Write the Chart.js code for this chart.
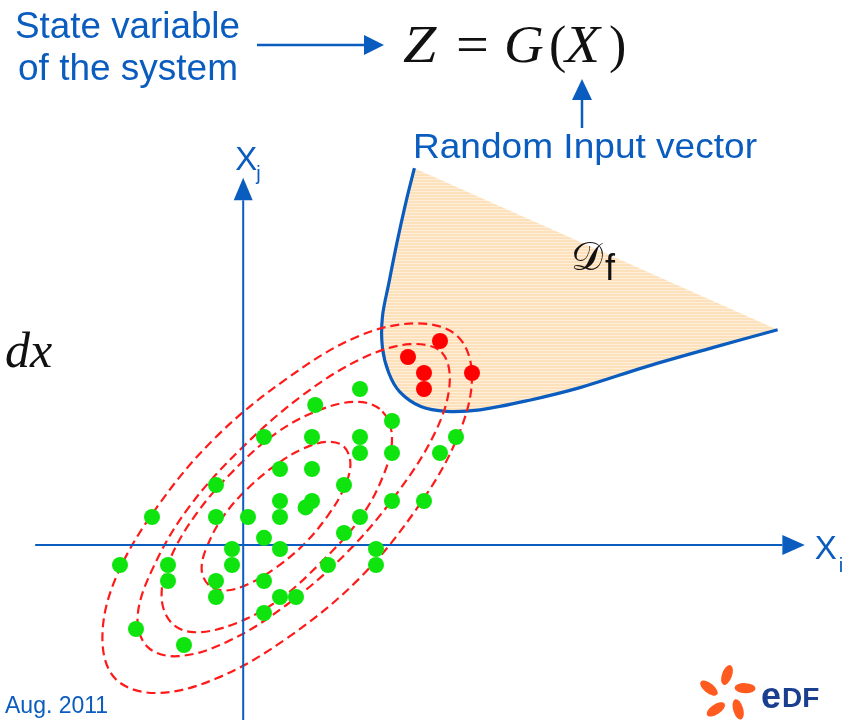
<!DOCTYPE html>
<html>
<head>
<meta charset="utf-8">
<script src="https://cdn.jsdelivr.net/npm/chart.js@4.4.1/dist/chart.umd.min.js"></script>
<style>
  html, body { margin: 0; padding: 0; background: #ffffff; }
  #wrap { width: 846px; height: 720px; }
</style>
</head>
<body>
<div id="wrap"><canvas id="c" width="846" height="720"></canvas></div>
<script>
// Monte Carlo sample of the input vector X = (Xi, Xj), in grid units
const safePoints = [
  [7, 10], [4.2, 9], [9, 8], [1, 7], [4, 7], [7, 7], [13, 7], [7, 6], [9, 6], [12, 6],
  [2, 5], [4, 5], [-2, 4], [6, 4], [-6, 2], [-2, 2], [0, 2], [2, 3], [4, 3], [3.6, 2.6],
  [2, 2], [9, 3], [11, 3], [7, 2], [1, 0.7], [6, 1], [-1, 0], [2, 0], [8, 0], [-8, -1],
  [-5, -1], [-1, -1], [5, -1], [8, -1], [-5, -2], [-2, -2], [1, -2], [-2, -3], [2, -3], [3, -3],
  [1, -4], [-7, -5], [-4, -6]
];
// Sample points falling inside the failure domain
const failurePoints = [[12, 13], [10, 12], [11, 11], [11, 10], [14, 11]];

// Iso-density contours of the joint input distribution (closed curves)
const contour1 = [
  [6.0, 6.4], [6.4, 5.3], [6.0, 3.8], [5.0, 2.1], [3.5, 0.3], [1.7, -1.2], [0.0, -2.2], [-1.5, -2.6],
  [-2.5, -2.2], [-2.9, -1.2], [-2.5, 0.3], [-1.5, 2.1], [0.0, 3.8], [1.8, 5.3], [3.5, 6.3], [5.0, 6.7]
];
const contour2 = [
  [8.4, 8.6], [9.0, 7.0], [8.5, 4.7], [7.0, 1.9], [4.6, -0.8], [1.9, -3.2], [-0.9, -4.7], [-3.4, -5.2],
  [-4.8, -4.6], [-5.4, -3.0], [-4.9, -0.7], [-3.3, 2.1], [-1.0, 4.8], [1.7, 7.2], [4.5, 8.7], [6.9, 9.2]
];
const contour3 = [
  [12.1, 12.3], [12.6, 10.3], [11.7, 7.3], [9.4, 3.6], [6.2, -0.2], [2.4, -3.5], [-1.3, -5.8], [-4.4, -6.7],
  [-6.3, -6.1], [-6.9, -4.2], [-5.9, -1.1], [-3.7, 2.6], [-0.4, 6.3], [3.4, 9.6], [7.1, 11.9], [10.1, 12.8]
];
const contour4 = [
  [13.1, 13.3], [14.0, 10.8], [13.1, 7.0], [10.6, 2.6], [6.9, -1.9], [2.4, -5.6], [-2.0, -8.1], [-5.8, -9.0],
  [-8.3, -8.1], [-9.1, -5.6], [-8.3, -1.9], [-5.7, 2.6], [-2.0, 7.0], [2.5, 10.7], [6.9, 13.3], [10.6, 14.1]
];

// Limit-state curve G(x) = 0 bounding the failure domain Df
const limitState = [
  [10.4, 23.8], [9.9, 21.8], [9.3, 19.1], [8.8, 16.6], [8.4, 14.5], [8.4, 12.6], [8.8, 11.0], [9.5, 9.8],
  [10.8, 8.9], [12.4, 8.6], [14.5, 8.7], [17.6, 9.3], [20.8, 10.1], [24.9, 11.4], [29.1, 12.6], [33.1, 13.7]
];

// Coordinate axes: crossing point, and [start, arrow base, arrow tip] along each axis
const axisOrigin = { x: -0.3, y: 0.25 };
const xiAxisSpan = [-13.3, 33.4, 34.8];
const xjAxisSpan = [-10.7, 21.8, 23.2];

const BLUE = '#0b5cbf';
const GREEN = '#0fe40f';
const RED = '#ff0000';
const DASH_RED = '#ff1a1a';

const pt = arr => arr.map(([x, y]) => ({ x, y }));

let stripes = null;
function stripePattern(ctx) {
  if (stripes) return stripes;
  const c = document.createElement('canvas');
  c.width = 4; c.height = 3;
  const g = c.getContext('2d');
  g.fillStyle = '#fde1bb'; g.fillRect(0, 0, 4, 3);
  g.fillStyle = '#feeedb'; g.fillRect(0, 2, 4, 1);
  stripes = ctx.createPattern(c, 'repeat');
  return stripes;
}

// Turns the contour datasets into closed smooth loops
const closedLoops = {
  id: 'closedLoops',
  afterDatasetUpdate(chart, args) {
    const ds = chart.data.datasets[args.index];
    const line = args.meta.dataset;
    if (ds.closedLoop && line) {
      line._loop = true;
      line._fullLoop = true;
      line._segments = undefined;
      line._path = undefined;
      line._pointsUpdated = false;
    }
  }
};

// Hatched fill of the failure domain, closed by a straight edge
const domainFill = {
  id: 'domainFill',
  beforeDatasetDraw(chart, args) {
    const ds = chart.data.datasets[args.index];
    if (!ds.domainFill) return;
    const line = args.meta.dataset;
    const ctx = chart.ctx;
    line.updateControlPoints(chart.chartArea, 'x');
    ctx.save();
    ctx.beginPath();
    line.path(ctx);
    ctx.closePath();
    ctx.fillStyle = stripePattern(ctx);
    ctx.fill();
    ctx.restore();
  }
};

function arrowHead(ctx, tx, ty, dir, len, half) {
  ctx.beginPath();
  if (dir === 'right') {
    ctx.moveTo(tx, ty); ctx.lineTo(tx - len, ty - half); ctx.lineTo(tx - len, ty + half);
  } else {
    ctx.moveTo(tx, ty); ctx.lineTo(tx - half, ty + len); ctx.lineTo(tx + half, ty + len);
  }
  ctx.closePath();
  ctx.fill();
}

function fitText(ctx, str, x, y, width) {
  const m = ctx.measureText(str).width;
  ctx.save();
  ctx.translate(x, y);
  ctx.scale(width / m, 1);
  ctx.fillText(str, 0, 0);
  ctx.restore();
}

function wideText(ctx, str, x, y, sx) {
  ctx.save();
  ctx.translate(x, y);
  ctx.scale(sx, 1);
  ctx.fillText(str, 0, 0);
  ctx.restore();
}

// Axis arrowheads and labels
const axisDecor = {
  id: 'axisDecor',
  afterDatasetsDraw(chart) {
    const ctx = chart.ctx;
    const xs = chart.scales.x, ys = chart.scales.y;
    ctx.save();
    ctx.fillStyle = BLUE;
    const ax = xs.getPixelForValue(axisOrigin.x);
    const ay = ys.getPixelForValue(axisOrigin.y);
    const xTip = xs.getPixelForValue(xiAxisSpan[2]);
    const yTip = ys.getPixelForValue(xjAxisSpan[2]);
    arrowHead(ctx, xTip, ay, 'right', xTip - xs.getPixelForValue(xiAxisSpan[1]), 10);
    arrowHead(ctx, ax, yTip, 'up', ys.getPixelForValue(xjAxisSpan[1]) - yTip, 9.5);
    ctx.textBaseline = 'alphabetic';
    ctx.font = '33px "Liberation Sans", Arial, sans-serif';
    ctx.fillText('X', xTip + 10, ay + 14);
    ctx.fillText('X', ax - 8, yTip - 8);
    ctx.font = '20px "Liberation Sans", Arial, sans-serif';
    ctx.fillText('i', xTip + 34, ay + 27);
    ctx.fillText('j', ax + 13, yTip + 2);
    ctx.restore();
  }
};

// Titles, formula, annotation arrows and footer
const annotations = {
  id: 'annotations',
  afterDraw(chart) {
    const ctx = chart.ctx;
    ctx.save();
    ctx.textBaseline = 'alphabetic';
    ctx.fillStyle = BLUE;
    ctx.strokeStyle = BLUE;

    ctx.font = '36px "Liberation Sans", Arial, sans-serif';
    fitText(ctx, 'State variable', 15, 38, 225);
    fitText(ctx, 'of the system', 18, 80, 220);
    ctx.font = '35px "Liberation Sans", Arial, sans-serif';
    fitText(ctx, 'Random Input vector', 413, 158, 344);

    ctx.lineWidth = 2.5;
    ctx.beginPath(); ctx.moveTo(257, 45); ctx.lineTo(366, 45); ctx.stroke();
    arrowHead(ctx, 384, 45, 'right', 20, 10);
    ctx.beginPath(); ctx.moveTo(582, 128); ctx.lineTo(582, 97); ctx.stroke();
    arrowHead(ctx, 582, 79, 'up', 21, 10);

    ctx.font = '23px "Liberation Sans", Arial, sans-serif';
    ctx.fillText('Aug. 2011', 5, 713);

    // Z = G(X)
    ctx.fillStyle = '#111111';
    const it = 'italic 52px "Liberation Serif", "DejaVu Serif", serif';
    const up = '52px "Liberation Serif", "DejaVu Serif", serif';
    const parts = [
      ['Z', it, 403, 1.15], ['=', up, 456, 1.12], ['G', it, 504, 1.06],
      ['(', up, 549, 1.0], ['X', it, 565, 1.1], [')', up, 609, 1.0]
    ];
    for (const [s, f, x, sx] of parts) { ctx.font = f; wideText(ctx, s, x, 62, sx); }
    ctx.font = 'italic 50px "Liberation Serif", "DejaVu Serif", serif';
    ctx.fillText('dx', 5, 367);

    // Df label
    ctx.font = '40px "DejaVu Serif", "Liberation Serif", serif';
    ctx.fillText('\u{1D49F}', 571, 270);
    ctx.font = '36px "Liberation Sans", Arial, sans-serif';
    ctx.fillText('f', 605, 280);

    // EDF logo
    const cx = 727, cy = 694;
    ctx.fillStyle = '#ff5a1f';
    for (const a of [-90, -18, 54, 126, 198]) {
      const r = a * Math.PI / 180;
      ctx.save();
      ctx.translate(cx + 19 * Math.cos(r), cy + 19 * Math.sin(r));
      ctx.rotate(r + 0.35);
      ctx.beginPath();
      ctx.ellipse(0, 0, 10.5, 5, 0, 0, Math.PI * 2);
      ctx.fill();
      ctx.restore();
    }
    ctx.fillStyle = '#1b3f8f';
    ctx.font = 'bold 36px "Liberation Sans", Arial, sans-serif';
    ctx.fillText('e', 761, 708);
    const ew = ctx.measureText('e').width;
    ctx.font = 'bold 28px "Liberation Sans", Arial, sans-serif';
    ctx.fillText('DF', 761 + ew + 1, 707);
    ctx.restore();
  }
};

const contourStyle = {
  borderColor: DASH_RED, borderWidth: 2.2, borderDash: [9, 5], tension: 0.36,
  pointRadius: 0, pointHoverRadius: 0, fill: false, closedLoop: true, order: 2
};

new Chart(document.getElementById('c'), {
  type: 'line',
  data: {
    datasets: [
      { label: 'Safe samples', data: pt(safePoints), showLine: false, pointRadius: 8, pointHoverRadius: 8,
        pointBackgroundColor: GREEN, pointBorderWidth: 0, order: 0 },
      { label: 'Failure samples', data: pt(failurePoints), showLine: false, pointRadius: 8, pointHoverRadius: 8,
        pointBackgroundColor: RED, pointBorderWidth: 0, order: 0 },
      { label: 'Xi', data: [{ x: xiAxisSpan[0], y: axisOrigin.y }, { x: xiAxisSpan[1], y: axisOrigin.y }],
        borderColor: BLUE, borderWidth: 2, pointRadius: 0, order: 1 },
      { label: 'Xj', data: [{ x: axisOrigin.x, y: xjAxisSpan[0] }, { x: axisOrigin.x, y: xjAxisSpan[1] }],
        borderColor: BLUE, borderWidth: 2, pointRadius: 0, order: 1 },
      Object.assign({ label: 'Contour 1', data: pt(contour1) }, contourStyle),
      Object.assign({ label: 'Contour 2', data: pt(contour2) }, contourStyle),
      Object.assign({ label: 'Contour 3', data: pt(contour3) }, contourStyle),
      Object.assign({ label: 'Contour 4', data: pt(contour4) }, contourStyle),
      { label: 'Limit state', data: pt(limitState), domainFill: true, borderColor: BLUE, borderWidth: 3.2,
        tension: 0.35, pointRadius: 0, pointHoverRadius: 0, fill: false, order: 3 }
    ]
  },
  options: {
    responsive: false,
    animation: false,
    events: [],
    layout: { padding: 0, autoPadding: false },
    plugins: { legend: { display: false }, tooltip: { enabled: false } },
    scales: {
      x: { type: 'linear', min: -15.5, max: 37.375, display: false },
      y: { type: 'linear', min: -10.6875, max: 34.3125, display: false }
    }
  },
  plugins: [closedLoops, domainFill, axisDecor, annotations]
});
</script>
</body>
</html>
